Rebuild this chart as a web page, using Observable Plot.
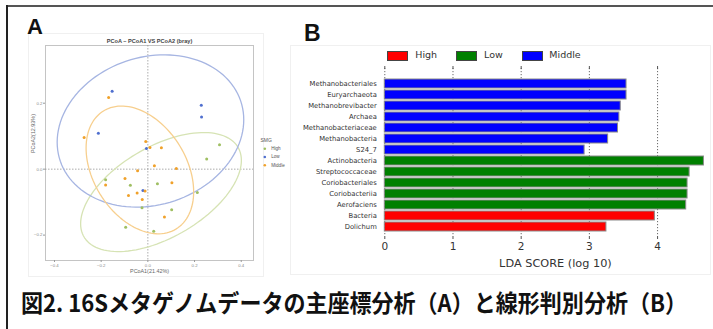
<!DOCTYPE html>
<html><head><meta charset="utf-8">
<script src="https://cdn.jsdelivr.net/npm/d3@7"></script>
<script src="https://cdn.jsdelivr.net/npm/@observablehq/plot@0.6"></script>
<style>
body{margin:0;background:#fff;}
#root{position:relative;width:713px;height:329px;overflow:hidden;background:#fff;font-family:"Liberation Sans",Arial,sans-serif;}
.abs{position:absolute;white-space:nowrap;}
</style></head><body><div id="root"></div>
<script>
// ---------- Panel A data (PCoA) ----------
const groupNames = ["High", "Low", "Middle"];
const pointColors = ["#9fbf62", "#4f6fcf", "#f0a12a"];
const ellipseColors = ["#d6e3b4", "#a6b5e2", "#f7cf8e"];
const pcoaGroup = [
  "Low","Low","Low","Low","Low","Low",
  "Middle","Middle","Middle","Middle","Middle","Middle","Middle","Middle",
  "Middle","Middle","Middle","Middle","Middle","Middle","Middle","Middle",
  "High","High","High","High","High","High","High","High","High","High"
];
const pcoa1 = [
  -0.153, 0.229, 0.230, -0.212, -0.006, -0.021,
  -0.168, -0.273, -0.009, 0.009, 0.058, 0.028, 0.122, -0.044,
  -0.098, -0.181, 0.103, -0.012, -0.046, -0.083, -0.024, 0.071,
  0.307, 0.252, -0.181, -0.075, 0.041, 0.212, -0.025, 0.102, -0.095, 0.025
];
const pcoa2 = [
  0.236, 0.194, 0.158, 0.109, 0.063, -0.065,
  0.217, 0.096, 0.084, 0.066, 0.065, 0.010, 0.002, -0.005,
  -0.028, -0.048, -0.041, -0.066, -0.072, -0.080, -0.092, -0.145,
  0.074, 0.031, -0.032, -0.049, -0.044, -0.071, -0.117, -0.123, -0.176, -0.188
];
const pcoaXTicks = [-0.4, -0.2, 0, 0.2, 0.4];
const pcoaYTicks = [-0.2, 0, 0.2];
const ellipseLevel = 0.90;

// ---------- Panel B data (LEfSe LDA) ----------
const ldaTaxa = [
  "Methanobacteriales","Euryarchaeota","Methanobrevibacter","Archaea",
  "Methanobacteriaceae","Methanobacteria","S24_7","Actinobacteria",
  "Streptococcaceae","Coriobacteriales","Coriobacteriia","Aerofaciens",
  "Bacteria","Dolichum"
];
const ldaScore = [3.545, 3.545, 3.46, 3.44, 3.42, 3.275, 2.93, 4.68, 4.47, 4.44, 4.44, 4.42, 3.96, 3.25];
const ldaClass = ["Middle","Middle","Middle","Middle","Middle","Middle","Middle",
  "Low","Low","Low","Low","Low","High","High"];
const ldaClassNames = ["High", "Low", "Middle"];
const ldaColors = ["#ff0000", "#008000", "#0000ff"];
const ldaTicks = [0, 1, 2, 3, 4];

const captionText = "図2. 16Sメタゲノムデータの主座標分析（A）と線形判別分析（B）";

// ---------- helpers ----------
const root = document.getElementById("root");
function addDiv(css, text) {
  const d = document.createElement("div");
  d.className = "abs";
  d.style.cssText = css;
  if (text != null) d.textContent = text;
  root.appendChild(d);
  return d;
}
const pcolor = g => pointColors[groupNames.indexOf(g)];
const ecolor = g => ellipseColors[groupNames.indexOf(g)];

// frame lines of the figure
addDiv("left:7px;top:5px;width:706px;height:2px;background:#555;");
addDiv("left:6px;top:5px;width:2px;height:324px;background:#222;");
// faint panel boxes
addDiv("left:28px;top:33px;width:234px;height:242px;border:1px solid #f0f0f0;");
addDiv("left:290px;top:45px;width:421px;height:230px;border:1px solid #f0f0f0;box-sizing:border-box;");

// ---------- Panel A ----------
const pts = pcoa1.map((x, i) => ({x, y: pcoa2[i], g: pcoaGroup[i]}));
const rad = Math.sqrt(-2 * Math.log(1 - ellipseLevel));
function ellipse(g) {
  const p = pts.filter(d => d.g === g);
  const n = p.length, mx = d3.mean(p, d => d.x), my = d3.mean(p, d => d.y);
  let sxx = 0, syy = 0, sxy = 0;
  for (const d of p) { const dx = d.x - mx, dy = d.y - my; sxx += dx*dx; syy += dy*dy; sxy += dx*dy; }
  sxx /= n - 1; syy /= n - 1; sxy /= n - 1;
  const l11 = Math.sqrt(sxx), l21 = sxy / l11, l22 = Math.sqrt(syy - l21*l21);
  return d3.range(0, 121).map(k => {
    const t = 2 * Math.PI * k / 120, c = Math.cos(t), s = Math.sin(t);
    return {g, x: mx + rad * l11 * c, y: my + rad * (l21 * c + l22 * s)};
  });
}
const ellData = groupNames.flatMap(ellipse);
const fA = "Liberation Sans, Arial, sans-serif";

const legendA = groupNames.flatMap((g, i) => [
  Plot.dot([g], {frameAnchor: "right", dx: 11.3, dy: -4.2 + i * 8.2, r: 1.3, fill: pcolor(g)}),
  Plot.text([g], {frameAnchor: "right", dx: 17.7, dy: -4.2 + i * 8.2, text: d => d, textAnchor: "start", fontSize: 4.6, fill: "#555"})
]);

const plotA = Plot.plot({
  width: 290, height: 280,
  marginLeft: 45, marginRight: 37, marginTop: 45, marginBottom: 20,
  x: {domain: [-0.4385, 0.4526]},
  y: {domain: [-0.277, 0.375]},
  style: {fontFamily: fA, background: "transparent", overflow: "visible"},
  marks: [
    Plot.frame({stroke: "#c4c4c4", strokeWidth: 1}),
    Plot.ruleX([0], {stroke: "#888", strokeDasharray: "1.5,1.5", strokeWidth: 0.7}),
    Plot.ruleY([0], {stroke: "#888", strokeDasharray: "1.5,1.5", strokeWidth: 0.7}),
    Plot.line(ellData, {x: "x", y: "y", z: "g", stroke: d => ecolor(d.g), strokeWidth: 1.3, curve: "linear"}),
    Plot.dot(pts, {x: "x", y: "y", fill: d => pcolor(d.g), r: 1.5}),
    Plot.axisX({ticks: pcoaXTicks, tickFormat: d3.format(".1f"), fontSize: 4.3, tickSize: 2, tickPadding: 1, stroke: "#999", fill: "#888", label: null}),
    Plot.axisY({ticks: pcoaYTicks, tickFormat: d3.format(".1f"), fontSize: 4.3, tickSize: 2, tickPadding: 1, stroke: "#999", fill: "#888", label: null}),
    Plot.text(["PCoA1(21.42%)"], {frameAnchor: "bottom", dy: 12.5, text: d => d, fontSize: 5.4, fill: "#666"}),
    Plot.text(["PCoA2(12.93%)"], {frameAnchor: "left", dx: -12.5, dy: 0, rotate: -90, text: d => d, fontSize: 5.4, fill: "#666"}),
    Plot.text(["PCoA – PCoA1 VS PCoA2 (bray)"], {frameAnchor: "top", dy: -6, text: d => d, fontSize: 5.6, fontWeight: "bold", fill: "#444"}),
    Plot.text(["SMG"], {frameAnchor: "right", dx: 7, dy: -13, text: d => d, textAnchor: "start", fontSize: 5, fill: "#555"}),
    ...legendA
  ]
});
plotA.style.position = "absolute";
plotA.style.left = "0px";
plotA.style.top = "0px";
root.appendChild(plotA);

// ---------- Panel B ----------
const ldaRows = ldaTaxa.map((t, i) => ({taxon: t, score: ldaScore[i], cls: ldaClass[i]}));
const fB = "DejaVu Sans, sans-serif";
const plotB = Plot.plot({
  width: 421, height: 230,
  marginLeft: 94.3, marginRight: 6.2, marginTop: 23, marginBottom: 39,
  x: {domain: [0, 4.7]},
  y: {domain: ldaTaxa, range: [28.7, 190.8], paddingInner: 0.14, paddingOuter: 0.07},
  style: {fontFamily: fB, background: "transparent", overflow: "visible"},
  marks: [
    Plot.ruleX(ldaTicks, {stroke: "#444", strokeDasharray: "1.2,1.8", strokeWidth: 0.8}),
    Plot.barX(ldaRows, {x: "score", y: "taxon", fill: d => ldaColors[ldaClassNames.indexOf(d.cls)], stroke: "#8a8a8a", strokeWidth: 1}),
    Plot.axisX({anchor: "top", ticks: ldaTicks, tickFormat: () => "", tickSize: 3, stroke: "#555", label: null}),
    Plot.axisX({anchor: "bottom", ticks: ldaTicks, tickFormat: d => String(d), tickSize: 3, tickPadding: 3, fontSize: 10.5, fill: "#333", stroke: "#555", label: null}),
    Plot.axisY({tickSize: 0, tickPadding: 8, fontSize: 6.8, fill: "#333", label: null}),
    Plot.text(["LDA SCORE (log 10)"], {frameAnchor: "bottom", dx: 10.4, dy: 30, text: d => d, fontSize: 11.3, fill: "#333"})
  ]
});
plotB.style.position = "absolute";
plotB.style.left = "290px";
plotB.style.top = "45px";
root.appendChild(plotB);

// legend for panel B
const legPos = [[387.3, 415.3], [455.7, 484], [522.3, 549.3]];
ldaClassNames.forEach((c, i) => {
  addDiv(`left:${legPos[i][0]}px;top:51px;width:19px;height:7.5px;background:${ldaColors[i]};border:0.8px solid #444;`);
  addDiv(`left:${legPos[i][1]}px;top:49px;font:9.5px/12px 'DejaVu Sans',sans-serif;color:#333;`, c);
});

// panel letters
addDiv("left:27px;top:16px;font:bold 22px/22px 'Liberation Sans',Arial,sans-serif;color:#111;", "A");
addDiv("left:304px;top:22px;font:bold 23px/23px 'Liberation Sans',Arial,sans-serif;color:#111;", "B");

// caption
const cap = addDiv("left:21px;top:290px;font:bold 24px/24px 'Noto Sans CJK JP',sans-serif;color:#111;transform-origin:0 0;", captionText);
const w = cap.getBoundingClientRect().width;
cap.style.transform = `scaleX(${666 / w})`;
</script></body></html>
